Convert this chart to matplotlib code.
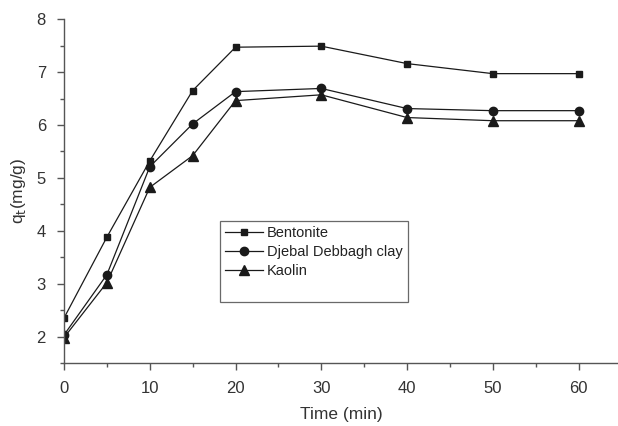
import matplotlib
matplotlib.use("Agg")
import matplotlib.pyplot as plt
from matplotlib.lines import Line2D
from matplotlib.ticker import MultipleLocator

plt.rcParams['font.family'] = ['Liberation Sans', 'DejaVu Sans']

time = [0, 5, 10, 15, 20, 30, 40, 50, 60]
bentonite = [2.35, 3.88, 5.32, 6.65, 7.47, 7.49, 7.16, 6.97, 6.97]
djebal = [2.03, 3.17, 5.21, 6.02, 6.63, 6.69, 6.31, 6.27, 6.27]
kaolin = [1.98, 3.02, 4.82, 5.42, 6.46, 6.57, 6.14, 6.08, 6.08]
labels = ["Bentonite", "Djebal Debbagh clay", "Kaolin"]

fig = plt.figure(figsize=(6.18, 4.26), dpi=100)
ax = fig.add_axes([0.1036, 0.148, 0.8964, 0.807])

c = '#1a1a1a'
ax.plot(time, bentonite, '-s', color=c, lw=0.9, ms=5, label=labels[0])
ax.plot(time, djebal, '-o', color=c, lw=0.9, ms=6, label=labels[1])
ax.plot(time, kaolin, '-^', color=c, lw=0.9, ms=7, label=labels[2])

ax.set_xlim(0, 64.6)
ax.set_ylim(1.5, 8)
ax.xaxis.set_major_locator(MultipleLocator(10))
ax.xaxis.set_minor_locator(MultipleLocator(5))
ax.yaxis.set_major_locator(MultipleLocator(1))
ax.yaxis.set_minor_locator(MultipleLocator(0.5))

for s in ['top', 'right']:
    ax.spines[s].set_visible(False)
for s in ['left', 'bottom']:
    ax.spines[s].set_color('#555555')
    ax.spines[s].set_linewidth(1.0)

ax.tick_params(which='major', direction='out', length=5, width=1, color='#555555',
               labelsize=12, labelcolor='#333333')
ax.tick_params(axis='x', which='major', pad=8)
ax.tick_params(axis='y', which='major', pad=8)
ax.tick_params(which='minor', direction='out', length=3, width=1, color='#555555')

ax.set_xlabel("Time (min)", fontsize=12.5, color='#333333', labelpad=8)
ax.set_ylabel(r"q$_\mathrm{t}$(mg/g)", fontsize=12.5, color='#333333', labelpad=6)

handles, lbls = ax.get_legend_handles_labels()
handles.append(Line2D([], [], color='none'))
lbls.append(" ")
leg = ax.legend(handles, lbls, loc='upper left', bbox_to_anchor=(0.2807, 0.413),
                frameon=True, fancybox=False, fontsize=10.5, handlelength=2.6,
                labelspacing=0.33, borderpad=0.35, handletextpad=0.3,
                borderaxespad=0)
leg.get_frame().set_edgecolor('#444444')
leg.get_frame().set_linewidth(0.9)
for t in leg.get_texts():
    t.set_color('#222222')

fig.savefig("out.png", dpi=100)
